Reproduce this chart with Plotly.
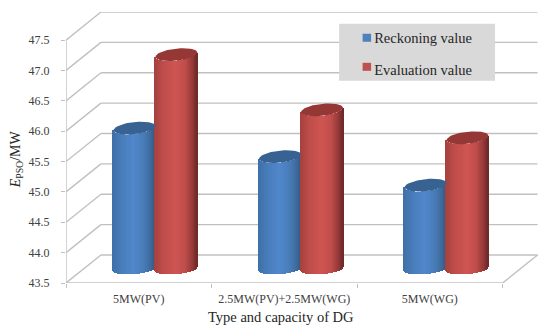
import numpy as np
import plotly.graph_objects as go

categories = ["5MW(PV)", "2.5MW(PV)+2.5MW(WG)", "5MW(WG)"]
reckoning = [45.82, 45.35, 44.88]
evaluation = [47.03, 46.12, 45.66]
y_ticks = [43.5, 44.0, 44.5, 45.0, 45.5, 46.0, 46.5, 47.0, 47.5]

DX, DY = 0.24, 0.462          # depth offset of the back wall, in axis units
HALF_W = 0.144                # cylinder half width
T_TOP, H_TOP = 0.035, 0.1     # top ellipse tilt, half height
T_BOT, H_BOT = 0.03, 0.085    # bottom ellipse tilt, half height
N = 43
GRID = "#c0c0c0"

def hex2rgb(h):
    return np.array([int(h[i:i + 2], 16) for i in (1, 3, 5)], float)

def ramp(stops, u):
    pos = [s[0] for s in stops]
    cols = np.array([hex2rgb(s[1]) for s in stops])
    return "rgb(%d,%d,%d)" % tuple(np.interp(u, pos, cols[:, i]) for i in range(3))

BLUE = [(-1, "#3f70a8"), (-0.5, "#4a7fbd"), (0.0, "#5188cc"), (0.45, "#4a7eba"), (0.8, "#3f6c9f"), (1, "#345a86")]
RED = [(-1, "#a5423f"), (-0.6, "#bf4d4a"), (0.0, "#cf5552"), (0.45, "#c04e4b"), (0.8, "#96393a"), (1, "#6f2a29")]

fig = go.Figure()

def cylinders(values, side, stops, cap):
    xs, tops, bases, cols = [], [], [], []
    us = np.linspace(-1, 1, N)
    for i, v in enumerate(values):
        cx = i + DX / 2 - 0.005 + side * HALF_W
        vv = v + DY / 2
        bb = y_ticks[0] + DY / 2
        for u in us:
            r = np.sqrt(max(0, 1 - u * u))
            xs.append(cx + u * HALF_W)
            top = vv + T_TOP * u - H_TOP * r
            base = bb + T_BOT * u - H_BOT * r
            tops.append(top - base)
            bases.append(base)
            cols.append(ramp(stops, u))
        th = np.linspace(0, 2 * np.pi, 60)
        ex = cx + HALF_W * np.cos(th)
        ey = vv + T_TOP * np.cos(th) + H_TOP * np.sin(th)
        fig.add_trace(go.Scatter(x=ex, y=ey, mode="lines", fill="toself", fillcolor=cap,
                                 line=dict(width=0, color=cap), hoverinfo="skip",
                                 showlegend=False, cliponaxis=False))
    fig.add_trace(go.Bar(x=xs, y=tops, base=bases, width=2 * HALF_W / (N - 1) * 1.35,
                         marker=dict(color=cols, line=dict(width=0)),
                         hoverinfo="skip", showlegend=False, cliponaxis=False))

cylinders(reckoning, -1, BLUE, "#386292")
cylinders(evaluation, 1, RED, "#953735")

for name in ["Reckoning value", "Evaluation value"]:
    fig.add_trace(go.Scatter(x=[None], y=[None], mode="markers", name=name, legendgroup=name,
                             marker=dict(symbol="square", size=9, color="rgba(0,0,0,0)")))

W, H = 550, 333
ML, MR, MT, MB = 65.7, 11, 12.3, 50.3
pw, ph = W - ML - MR, H - MT - MB
px = lambda x: (x - ML) / pw
py = lambda y: (H - MB - y) / ph

xl, xr = -0.5, 2.5
shapes = []
ln = dict(color=GRID, width=1.4)
for v in y_ticks:
    shapes.append(dict(type="line", xref="x", yref="y", x0=xl, y0=v, x1=xl + DX, y1=v + DY, line=ln, layer="below"))
    shapes.append(dict(type="line", xref="x", yref="y", x0=xl + DX, y0=v + DY, x1=xr + DX, y1=v + DY, line=ln, layer="below"))
shapes.append(dict(type="line", xref="x", yref="y", x0=xl, y0=y_ticks[0], x1=xl, y1=y_ticks[-1], line=ln, layer="below"))
shapes.append(dict(type="line", xref="x", yref="y", x0=xl, y0=y_ticks[0], x1=xr, y1=y_ticks[0], line=ln, layer="below"))
shapes.append(dict(type="line", xref="x", yref="y", x0=xr, y0=y_ticks[0], x1=xr + DX, y1=y_ticks[0] + DY, line=ln, layer="below"))
shapes.append(dict(type="rect", xref="paper", yref="paper", x0=px(339), x1=px(495), y0=py(81), y1=py(24), layer="above",
                   fillcolor="#d9d9d9", line=dict(width=0)))
for yc, c in [(38, "#4f81bd"), (67, "#c0504d")]:
    shapes.append(dict(type="rect", xref="paper", yref="paper", x0=px(362.5), x1=px(371), y0=py(yc + 4), y1=py(yc - 4),
                       layer="above", fillcolor=c, line=dict(width=0)))

FONT = "Liberation Serif"
TXT = "#404040"
fig.update_layout(
    width=W, height=H, autosize=False, margin=dict(l=ML, r=MR, t=MT, b=MB),
    paper_bgcolor="white", plot_bgcolor="white", barmode="overlay", bargap=0,
    font=dict(family=FONT, size=12, color=TXT), shapes=shapes,
    xaxis=dict(range=[-0.5, 2.75], tickvals=[0, 1, 2], ticktext=categories, ticks="", showgrid=False,
               zeroline=False, showline=False, tickfont=dict(size=12, color=TXT), ticklabelstandoff=7,
               minor=dict(tickvals=[-0.5, 0.5, 1.5, 2.5], ticks="outside", ticklen=4, tickcolor=GRID, tickwidth=1.2, showgrid=False)),
    yaxis=dict(range=[43.5, 47.963], tickvals=y_ticks, tickformat=".1f", ticks="outside", ticklen=4,
               tickcolor=GRID, showgrid=False, zeroline=False, showline=False,
               tickfont=dict(size=12, color=TXT), ticklabelstandoff=9),
    legend=dict(x=px(334), y=py(22), xanchor="left", yanchor="top",
                bgcolor="rgba(0,0,0,0)", font=dict(size=14.5, color="#262626"), tracegroupgap=10,
                itemwidth=30),
    annotations=[
        dict(text="Type and capacity of DG", xref="paper", yref="paper", x=px(281), y=py(317),
             showarrow=False, font=dict(size=14.5, color="#262626"), xanchor="center", yanchor="middle"),
        dict(text="<i>E</i><sub>PSO</sub>/MW", xref="paper", yref="paper", x=px(16), y=py(159),
             showarrow=False, textangle=-90, font=dict(size=14, color="#262626"), xanchor="center", yanchor="middle"),
    ],
)
fig.write_html("out.html", config=dict(displayModeBar=False),
               post_script="document.body.style.margin='0';")
